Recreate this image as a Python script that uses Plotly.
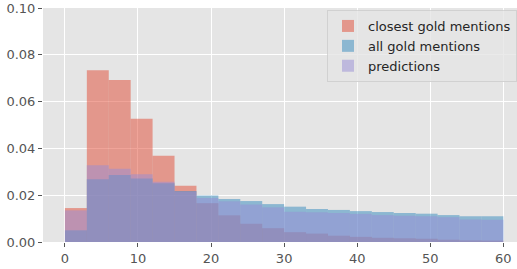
import plotly.graph_objects as go

bin_edges = list(range(0, 61, 3))
bin_centers = [(a + b) / 2 for a, b in zip(bin_edges[:-1], bin_edges[1:])]
bin_width = 3

series_names = ["closest gold mentions", "all gold mentions", "predictions"]
closest_gold = [0.0145, 0.0734, 0.0692, 0.0527, 0.0369, 0.0240, 0.0166, 0.0114, 0.0078, 0.0059,
                0.0042, 0.0036, 0.0027, 0.0022, 0.0018, 0.0016, 0.0014, 0.0010, 0.0007, 0.0006]
all_gold = [0.0050, 0.0268, 0.0286, 0.0271, 0.0251, 0.0218, 0.0199, 0.0184, 0.0175, 0.0162,
            0.0151, 0.0141, 0.0137, 0.0132, 0.0128, 0.0124, 0.0121, 0.0115, 0.0110, 0.0110]
predictions = [0.0135, 0.0328, 0.0313, 0.0289, 0.0258, 0.0216, 0.0188, 0.0174, 0.0160, 0.0148,
               0.0129, 0.0127, 0.0124, 0.0120, 0.0115, 0.0112, 0.0110, 0.0106, 0.0096, 0.0095]

x_ticks = [0, 10, 20, 30, 40, 50, 60]
y_ticks = [0.00, 0.02, 0.04, 0.06, 0.08, 0.10]

colors = ["rgba(226,74,51,0.5)", "rgba(52,138,189,0.5)", "rgba(152,142,213,0.5)"]

fig = go.Figure()
for name, vals, col in zip(series_names, [closest_gold, all_gold, predictions], colors):
    fig.add_trace(go.Bar(x=bin_centers, y=vals, width=bin_width, name=name,
                         marker=dict(color=col, line=dict(width=0))))

font = dict(family="DejaVu Sans", size=13, color="#555555")
fig.update_layout(
    width=517, height=269,
    margin=dict(l=43, r=0, t=8, b=27),
    barmode="overlay",
    paper_bgcolor="white",
    plot_bgcolor="#E5E5E5",
    font=font,
    showlegend=True,
    legend=dict(x=1, xanchor="right", y=1 - 2 / 234, yanchor="top",
                bgcolor="rgba(229,229,229,0.8)", bordercolor="rgba(204,204,204,0.8)",
                borderwidth=1, font=dict(family="DejaVu Sans", size=13, color="#262626"),
                traceorder="normal", itemwidth=30),
    xaxis=dict(range=[-3, 61.87], tickvals=x_ticks, ticks="outside", ticklen=4,
               tickcolor="#555555", showgrid=True, gridcolor="white", gridwidth=1,
               zeroline=False, showline=False, automargin=False),
    yaxis=dict(range=[0, 0.1], tickvals=y_ticks, tickformat=".2f", ticks="outside",
               ticklen=4, tickcolor="#555555", showgrid=True, gridcolor="white",
               gridwidth=1, zeroline=False, showline=False, automargin=False),
)

fig.write_html("out.html", config={"displayModeBar": False},
               post_script="document.body.style.margin='0';")
